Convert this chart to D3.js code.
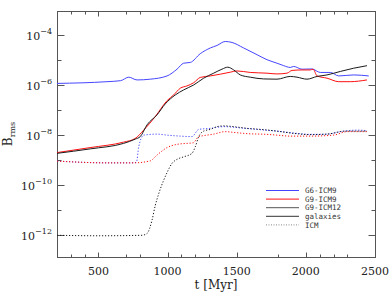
<!DOCTYPE html>
<html>
<head>
<meta charset="utf-8">
<script src="https://cdn.jsdelivr.net/npm/d3@7"></script>
<style>
  body { margin: 0; background: #fff; }
  svg { display: block; }
  .tick-label { font-family: "DejaVu Serif", serif; fill: #222; }
  .legend text { font-family: "DejaVu Sans Mono", monospace; font-size: 7.5px; fill: #333; }
</style>
</head>
<body>
<svg id="chart" width="390" height="303"></svg>
<script>
// time in Myr, values are log10(B_rms)
const g6GalT = [200, 562, 660, 719, 779, 875, 996, 1068, 1116, 1164, 1236, 1309, 1357, 1417, 1466, 1550, 1647, 1719, 1791, 1840, 1887, 1912, 1972, 2044, 2104, 2177, 2238, 2346, 2455];
const g6Gal  = [-5.95, -5.88, -5.84, -5.70, -5.81, -5.78, -5.65, -5.38, -5.14, -5.11, -4.76, -4.53, -4.43, -4.27, -4.31, -4.53, -4.80, -5.00, -5.14, -5.24, -5.31, -5.27, -5.38, -5.37, -5.51, -5.51, -5.65, -5.61, -5.65];

const g9GalT = [200, 439, 682, 764, 827, 909, 996, 1044, 1092, 1140, 1189, 1236, 1309, 1381, 1453, 1502, 1598, 1719, 1791, 1863, 1900, 1972, 2032, 2052, 2081, 2153, 2238, 2321, 2442];
const g9Gal  = [-8.72, -8.52, -8.30, -8.16, -7.82, -7.29, -6.64, -6.41, -6.14, -6.05, -5.92, -5.71, -5.65, -5.58, -5.50, -5.45, -5.51, -5.54, -5.57, -5.54, -5.43, -5.41, -5.41, -5.38, -5.65, -5.74, -5.88, -5.88, -5.81];

const g12GalT = [200, 441, 682, 766, 802, 851, 923, 983, 1056, 1116, 1189, 1261, 1333, 1393, 1435, 1478, 1526, 1598, 1695, 1791, 1887, 1936, 2008, 2081, 2153, 2249, 2346, 2442];
const g12Gal  = [-8.75, -8.57, -8.35, -8.18, -8.08, -7.61, -7.21, -6.77, -6.41, -6.21, -6.01, -5.74, -5.54, -5.38, -5.30, -5.41, -5.61, -5.70, -5.77, -5.78, -5.67, -5.70, -5.78, -5.67, -5.61, -5.47, -5.34, -5.24];

const g6IcmT = [200, 562, 755, 775, 791, 827, 923, 996, 1092, 1176, 1225, 1309, 1406, 1526, 1647, 1791, 1936, 2032, 2153, 2274, 2370, 2442];
const g6Icm  = [-9.06, -9.13, -9.13, -9.10, -8.49, -8.02, -7.98, -8.02, -8.06, -8.08, -7.79, -7.75, -7.68, -7.73, -7.79, -7.86, -7.95, -7.99, -7.98, -7.86, -7.82, -7.84];

const g9IcmT = [200, 562, 755, 875, 923, 996, 1068, 1140, 1184, 1225, 1261, 1333, 1417, 1478, 1574, 1719, 1791, 1887, 2032, 2201, 2298, 2442];
const g9Icm  = [-9.06, -9.13, -9.13, -9.05, -8.82, -8.52, -8.39, -8.35, -8.33, -8.08, -8.04, -7.98, -7.88, -7.91, -7.96, -7.99, -8.02, -8.06, -8.06, -8.02, -7.88, -7.88];

const g12IcmT = [200, 511, 815, 851, 887, 911, 936, 972, 996, 1032, 1068, 1116, 1176, 1200, 1225, 1261, 1309, 1357, 1406, 1478, 1574, 1671, 1791, 1912, 2030, 2153, 2283, 2442];
const g12Icm  = [-12.03, -12.05, -12.03, -11.96, -11.43, -10.83, -10.36, -9.82, -9.52, -9.15, -8.99, -8.89, -8.75, -8.49, -8.08, -7.86, -7.79, -7.68, -7.65, -7.68, -7.75, -7.79, -7.86, -7.95, -8.00, -7.98, -7.86, -7.86];

const xMajor = [500, 1000, 1500, 2000, 2500];
const xMinor = [300, 400, 700, 800, 1100, 1200, 1300, 1800, 2100, 2200, 2300];
const yDecades = [-12, -11, -10, -9, -8, -7, -6, -5, -4];
const yLabeled = [-12, -10, -8, -6, -4];

const legendNames = ["G6-ICM9", "G9-ICM9", "G9-ICM12", "galaxies", "ICM"];

const BLUE = "#4646ff", RED = "#ff1010", BLACK = "#1a1a1a", FRAME = "#555";

const svg = d3.select("#chart");
const mLeft = 57, mRight = 375, mTop = 11, mBottom = 257;

const x = d3.scaleLinear().domain([200, 2500]).range([mLeft, mRight]);
const y = d3.scaleLog().domain([Math.pow(10, -12.9), Math.pow(10, -3.05)]).range([mBottom, mTop]);

// frame
svg.append("rect")
    .attr("x", mLeft + 0.5).attr("y", mTop + 0.5)
    .attr("width", mRight - mLeft).attr("height", mBottom - mTop)
    .attr("fill", "none").attr("stroke", FRAME).attr("stroke-width", 1);

// x ticks, bottom and top, inward
const xTicks = xMajor.map(v => ({ v, len: 5 })).concat(xMinor.map(v => ({ v, len: 3 })));
xTicks.forEach(t => {
    const px = Math.round(x(t.v)) + 0.5;
    svg.append("line").attr("x1", px).attr("x2", px)
        .attr("y1", mBottom + 0.5).attr("y2", mBottom + 0.5 - t.len)
        .attr("stroke", FRAME);
    svg.append("line").attr("x1", px).attr("x2", px)
        .attr("y1", mTop + 0.5).attr("y2", mTop + 0.5 + t.len)
        .attr("stroke", FRAME);
});
svg.selectAll(".xlab").data(xMajor).enter().append("text")
    .attr("class", "tick-label")
    .attr("x", d => x(d)).attr("y", 275)
    .attr("text-anchor", "middle").attr("font-size", 11)
    .text(d => d);

// y ticks, left and right, inward
yDecades.forEach(e => {
    const py = Math.round(y(Math.pow(10, e))) + 0.5;
    const len = yLabeled.includes(e) ? 7 : 4;
    svg.append("line").attr("x1", mLeft + 0.5).attr("x2", mLeft + 0.5 + len)
        .attr("y1", py).attr("y2", py).attr("stroke", FRAME);
    svg.append("line").attr("x1", mRight + 0.5).attr("x2", mRight + 0.5 - len)
        .attr("y1", py).attr("y2", py).attr("stroke", FRAME);
});
const ylab = svg.selectAll(".ylab").data(yLabeled).enter().append("text")
    .attr("class", "tick-label")
    .attr("x", 52).attr("y", d => y(Math.pow(10, d)) + 5)
    .attr("text-anchor", "end").attr("font-size", 11);
ylab.append("tspan").text("10");
ylab.append("tspan").attr("font-size", 8).attr("dy", -6).text(d => "\u2212" + (-d));

// axis titles
const yt = svg.append("text").attr("class", "tick-label")
    .attr("transform", "translate(12,134) rotate(-90)")
    .attr("text-anchor", "middle").attr("font-size", 12);
yt.append("tspan").text("B");
yt.append("tspan").attr("font-size", 8).attr("dy", 3).text("rms");

svg.append("text").attr("class", "tick-label")
    .attr("x", (mLeft + mRight) / 2).attr("y", 289)
    .attr("text-anchor", "middle").attr("font-size", 12)
    .text("t [Myr]");

// curves
const line = d3.line()
    .x(d => x(d[0]))
    .y(d => y(Math.pow(10, d[1])))
    .curve(d3.curveMonotoneX);

const series = [
    { t: g6IcmT, v: g6Icm, color: BLUE, dash: "1.2,1.8" },
    { t: g9IcmT, v: g9Icm, color: RED, dash: "1.2,1.8" },
    { t: g12IcmT, v: g12Icm, color: BLACK, dash: "1.2,1.8" },
    { t: g6GalT, v: g6Gal, color: BLUE, dash: null },
    { t: g9GalT, v: g9Gal, color: RED, dash: null },
    { t: g12GalT, v: g12Gal, color: BLACK, dash: null }
];

const plot = svg.append("g");
series.forEach(s => {
    plot.append("path")
        .datum(d3.zip(s.t, s.v))
        .attr("d", line)
        .attr("fill", "none")
        .attr("stroke", s.color)
        .attr("stroke-width", 1)
        .attr("stroke-dasharray", s.dash);
});

// legend
const legColors = [BLUE, RED, "#555", "#333", "#888"];
const legDash = [null, null, null, null, "1,1.5"];
const legend = svg.append("g").attr("class", "legend");
legendNames.forEach((name, i) => {
    const ly = 190.5 + i * 8.6;
    legend.append("line")
        .attr("x1", 266).attr("x2", 299)
        .attr("y1", ly).attr("y2", ly)
        .attr("stroke", legColors[i]).attr("stroke-width", 1)
        .attr("stroke-dasharray", legDash[i]);
    legend.append("text").attr("x", 305).attr("y", ly + 2.7).text(name);
});
</script>
</body>
</html>
